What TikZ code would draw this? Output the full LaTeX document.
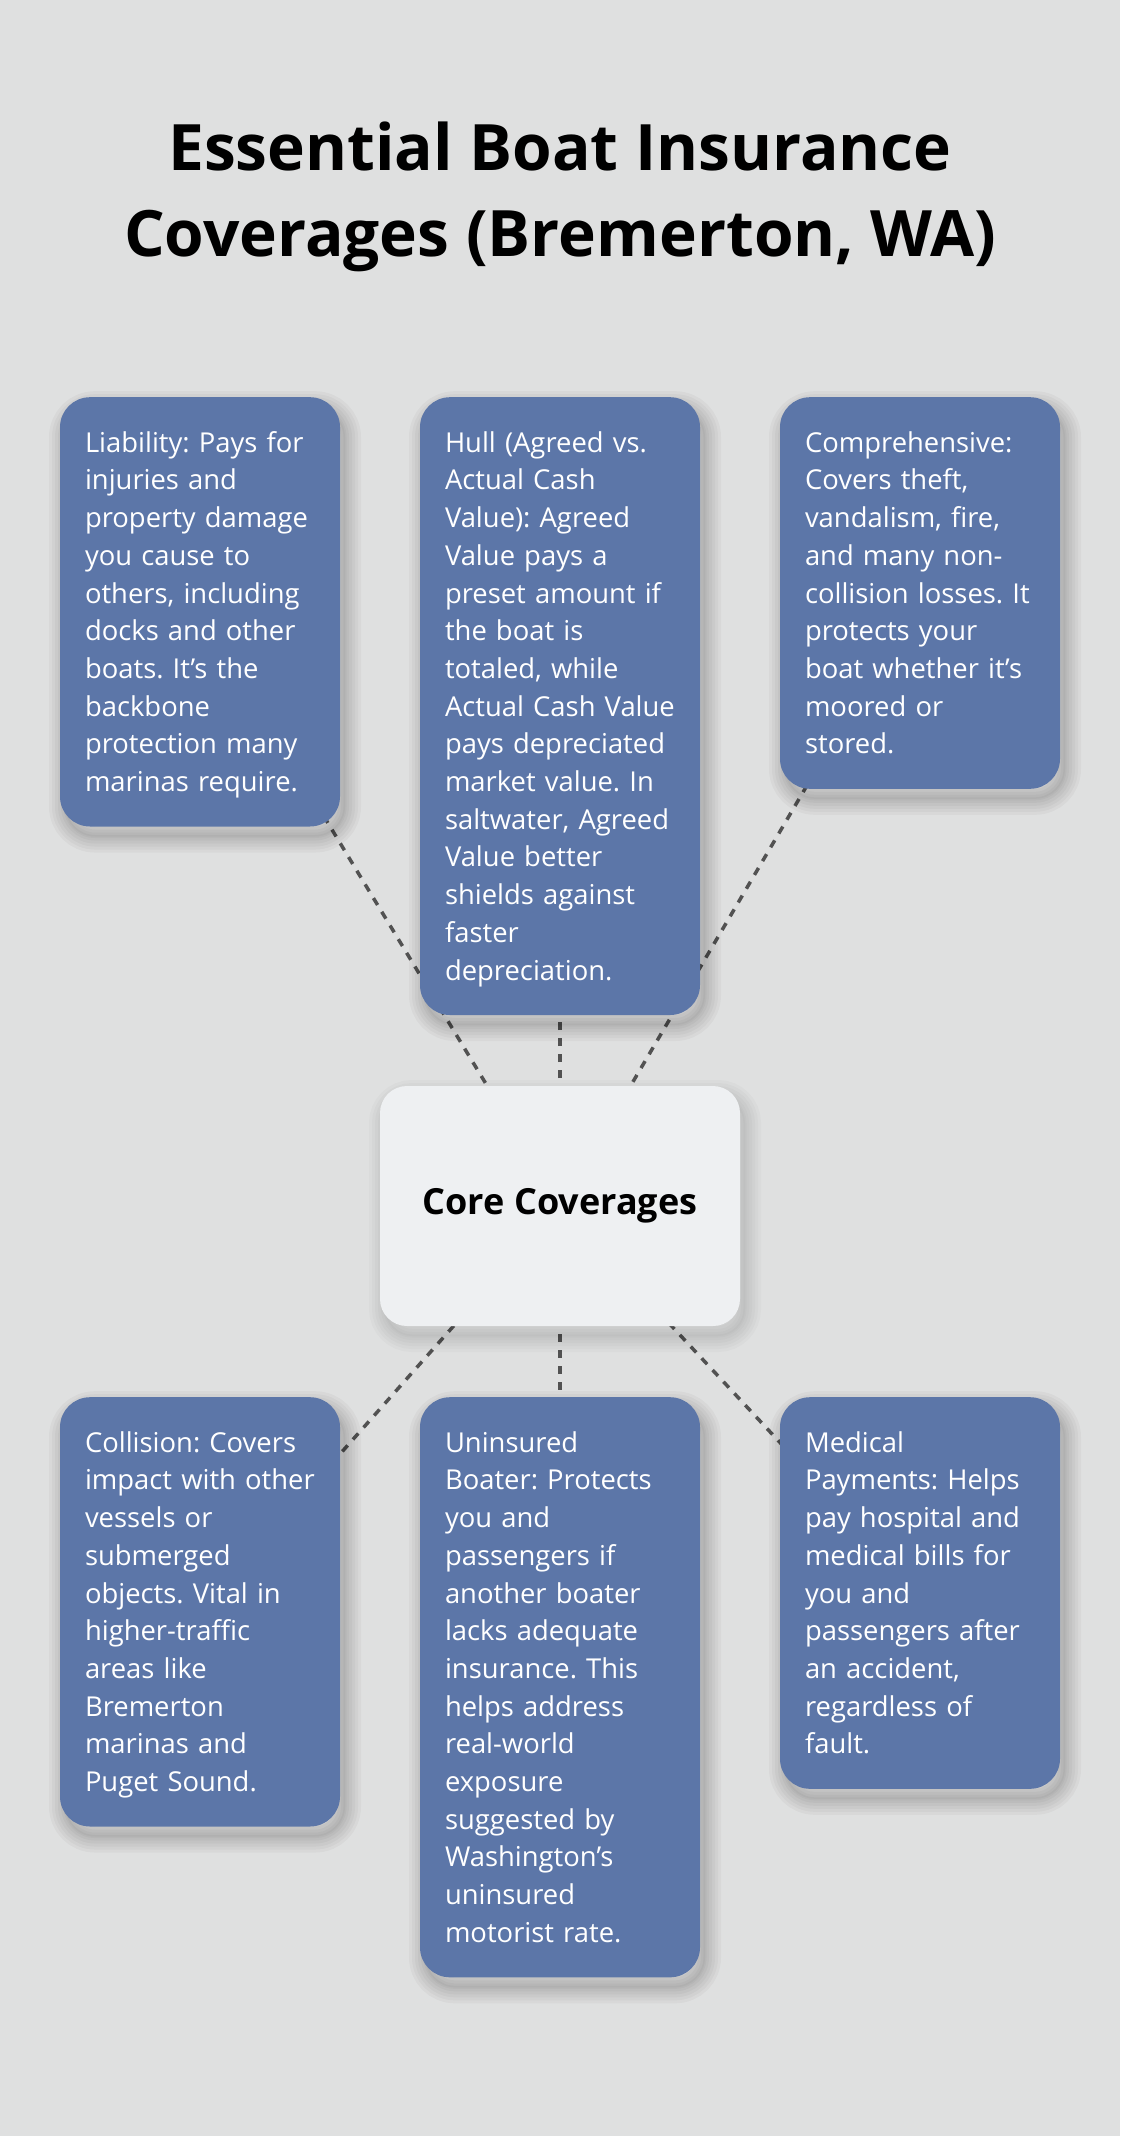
\documentclass[tikz,border=0pt]{standalone}
\usepackage{fontspec}
\setmainfont{Open Sans}
\usepackage{tikz}
\usetikzlibrary{positioning, backgrounds}

\definecolor{pagebg}{HTML}{DFE0E0}
\definecolor{cardblue}{HTML}{5C76A8}
\definecolor{corefill}{HTML}{EEF0F2}
\definecolor{linkgray}{HTML}{525252}

\pgfdeclarelayer{links}
\pgfsetlayers{background,links,main}

\tikzset{
    shadow ring/.style={preaction={draw=black, draw opacity=\shadowop, line width=#1, transform canvas={xshift=5pt, yshift=-10pt}}},
    soft shadow/.style={
        /utils/exec=\def\shadowop{#1},
        shadow ring=32pt, shadow ring=26pt, shadow ring=20pt, shadow ring=14pt, shadow ring=8pt, shadow ring=3pt,
        preaction={fill=black, fill opacity=#1, transform canvas={xshift=5pt, yshift=-10pt}}},
    soft shadow/.default=0.03,
}

\begin{document}
\frenchspacing
\begin{tikzpicture}[
        x=1pt, y=-1pt,
        font=\fontsize{27.4}{37.7}\selectfont,
        card/.style={fill=cardblue, text=white, rounded corners=30pt, anchor=north,
            text width=230pt, inner xsep=25pt, inner ysep=27pt, align=left, soft shadow,
            execute at begin node={\rightskip=-20pt plus 1fil\relax\rule{0pt}{28pt}},
            execute at end node=\rule[-8pt]{0pt}{8pt}},
        hub/.style={fill=corefill, rounded corners=27pt, minimum width=360pt, minimum height=240pt,
            font=\fontsize{36}{42}\selectfont\bfseries, soft shadow=0.02},
        link/.style={draw=linkgray, line width=3.5pt, dash pattern=on 8pt off 8pt},
        title/.style={font=\fontsize{64}{86}\selectfont\bfseries, align=center, inner sep=0pt},
    ]
    % Page
    \begin{pgfonlayer}{background}
        \fill[pagebg] (0,0) rectangle (1120,2136);
    \end{pgfonlayer}

    % Title
    \node[title] (title) at (560,197) {Essential Boat Insurance\\Coverages (Bremerton, WA)};

    % Top row
    \node[card] (liab) at (200,397) {Liability: Pays for\\injuries and\\property damage\\you cause to\\others, including\\docks and other\\boats. It’s the\\backbone\\protection many\\marinas require.};
    \node[card] (hull) at (560,397) {Hull (Agreed vs.\\Actual Cash\\Value): Agreed\\Value pays a\\preset amount if\\the boat is\\totaled, while\\Actual Cash Value\\pays depreciated\\market value. In\\saltwater, Agreed\\Value better\\shields against\\faster\\depreciation.};
    \node[card] (comp) at (920,397) {Comprehensive:\\Covers theft,\\vandalism, fire,\\and many non-\\collision losses. It\\protects your\\boat whether it’s\\moored or\\stored.};

    % Bottom row
    \node[card] (coll) at (200,1397) {Collision: Covers\\impact with other\\vessels or\\submerged\\objects. Vital in\\higher-traffic\\areas like\\Bremerton\\marinas and\\Puget Sound.};
    \node[card] (unins) at (560,1397) {Uninsured\\Boater: Protects\\you and\\passengers if\\another boater\\lacks adequate\\insurance. This\\helps address\\real-world\\exposure\\suggested by\\Washington’s\\uninsured\\motorist rate.};
    \node[card] (medic) at (920,1397) {Medical\\Payments: Helps\\pay hospital and\\medical bills for\\you and\\passengers after\\an accident,\\regardless of\\fault.};

    % Hub
    \node[hub] (core) at (560,1206) {Core Coverages};

    % Links
    \begin{pgfonlayer}{links}
        \foreach \leaf in {liab,hull,comp,coll,unins,medic}
            \draw[link] (core.center) -- (\leaf.center);
    \end{pgfonlayer}
\end{tikzpicture}
\end{document}
